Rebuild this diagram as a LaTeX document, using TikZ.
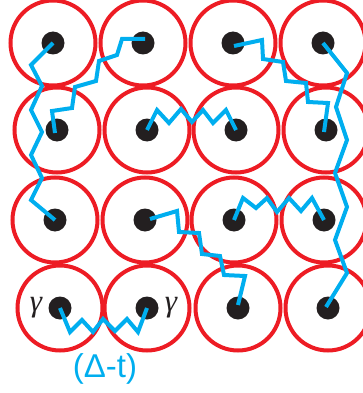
\documentclass[tikz,border=0pt]{standalone}
\usepackage{fontspec}
\usetikzlibrary{calc}
\newfontfamily\gfont{Liberation Serif}
\newfontfamily\lfont{Liberation Sans}
\definecolor{ringred}{HTML}{ED1C24}
\definecolor{pathblue}{HTML}{00AEEF}
\definecolor{dotblack}{HTML}{231F20}
\tikzset{
  ring/.style={circle, draw=ringred, line width=4pt, minimum size=85pt, inner sep=0pt},
  dotnode/.style={circle, fill=dotblack, minimum size=23pt, inner sep=0pt},
  zig/.style={draw=pathblue, line width=4pt, miter limit=10},
  glabel/.style={font=\gfont\itshape\fontsize{31}{31}\selectfont, text=dotblack, inner sep=0pt},
  dlabel/.style={font=\lfont\fontsize{33}{33}\selectfont, text=pathblue, inner sep=0pt}
}
\begin{document}
\begin{tikzpicture}[x=1pt,y=-1pt]
\useasboundingbox (0,0) rectangle (362,393);
% rings
\foreach \n/\x/\y in {11/53/43,12/143/43,13/233/43,14/323/43,
                      21/57/130,22/147/130,23/236/130,24/326/130,
                      31/55/220,32/145/220,33/234/220,34/324/220,
                      41/60/308,42/147/308,43/238/308,44/328/308}{
  \node[ring] (r\n) at (\x,\y) {};
}
% dots
\foreach \n/\x/\y in {11/53/43,12/143/43,13/233/43,14/323/43,
                      21/57/130,22/147/130,23/236/130,24/326/130,
                      31/55/220,32/145/220,33/234/220,34/324/220,
                      41/60/308,42/147/308,43/238/308,44/328/308}{
  \node[dotnode] (d\n) at (\x,\y) {};
}
% blue zigzag paths
\draw[zig] (d11.center) -- (31,65) -- (42,86) -- (31,110) -- (42,132) -- (31,155) -- (42,178) -- (31,200) -- (d31.center);
\draw[zig] ($(d12.center)+(2,-4)$) -- (122,39) -- (117,55) -- (99,61) -- (96,81) -- (75,87) -- (72,108) -- (52,111) -- ($(d21.center)+(-2,3)$);
\draw[zig] (d22.center) -- (157,110) -- (169,123) -- (181,109) -- (192,122) -- (203,110) -- (213,123) -- (226,110) -- (d23.center);
\draw[zig] ($(d13.center)+(1,3)$) -- (262,40) -- (263,59) -- (283,62) -- (286,81) -- (306,83) -- (308,102) -- (328,103) -- ($(d24.center)+(-2,2)$);
\draw[zig] (d14.center) -- (347,73) -- (336,107) -- (347,140) -- (335,173) -- (347,207) -- (335,240) -- (347,273) -- ($(d44.center)+(-2,-1)$);
\draw[zig] (d33.center) -- (243,198) -- (256,208) -- (267,198) -- (277,212) -- (289,198) -- (301,211) -- (312,198) -- (d34.center);
\draw[zig] ($(d32.center)+(5,-1)$) -- (177,211) -- (179,232) -- (199,233) -- (202,254) -- (220,256) -- (224,275) -- (245,276) -- ($(d43.center)+(0,-3)$);
\draw[zig] (d41.center) -- (70,332) -- (82,320) -- (93,332) -- (103,319) -- (115,331) -- (127,319) -- (138,332) -- (d42.center);
% labels
\node[glabel] (g1) at (36,308) {γ};
\node[glabel] (g2) at (171,308) {γ};
\node[dlabel] (dt) at (105,369) {(Δ-t)};
\end{tikzpicture}
\end{document}
